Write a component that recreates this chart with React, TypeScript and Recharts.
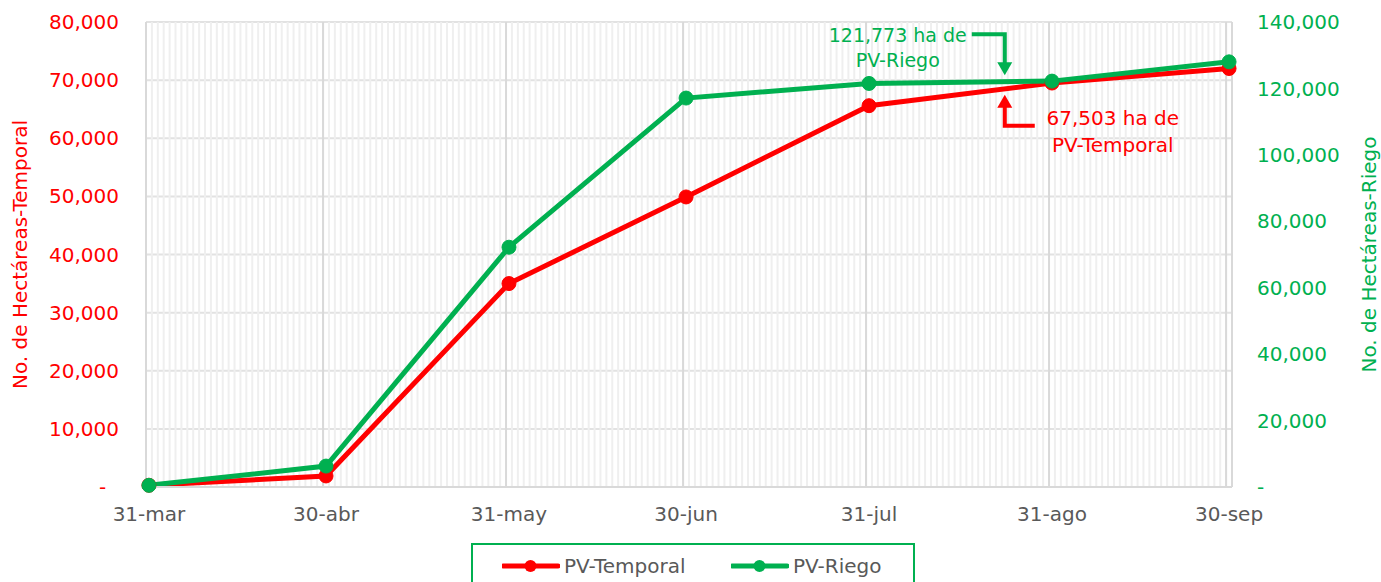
import React from 'react';
import {
  ComposedChart,
  Line,
  XAxis,
  YAxis,
  CartesianGrid,
  ReferenceLine,
  ReferenceDot,
  Legend,
} from 'recharts';

// ---- data ----
const dateLabels = ['31-mar', '30-abr', '31-may', '30-jun', '31-jul', '31-ago', '30-sep'];
const dayIndex = [0, 30, 61, 91, 122, 153, 183]; // days since 31-mar
const temporal = [300, 1900, 35000, 49900, 65600, 69500, 72000];
const riego = [500, 6300, 72200, 117100, 121500, 122200, 128000];
const leftTicks = [0, 10000, 20000, 30000, 40000, 50000, 60000, 70000, 80000];
const rightTicks = [0, 20000, 40000, 60000, 80000, 100000, 120000, 140000];
const totalDays = 184;
const annotationDay = 145;
const riegoAnnotation = 124000;
const temporalAnnotation = 67500;
const riegoText = ['121,773 ha de', 'PV-Riego'];
const temporalText = ['67,503 ha de', 'PV-Temporal'];

const RED = '#FF0000';
const GREEN = '#00B050';
const GRAY = '#595959';
const FONT = 'DejaVu Sans';

const data = dayIndex.map((d, i) => ({ day: d, temporal: temporal[i], riego: riego[i] }));
const minorLines = Array.from({ length: totalDays + 1 }, (_, k) => k - 0.5);
const majorLines = [...dayIndex.map((d) => d - 0.5), totalDays - 0.5];

const fmtLeft = (v: number) => (v === 0 ? '-\u00A0\u00A0' : v.toLocaleString('en-US'));
const fmtRight = (v: number) => (v === 0 ? '-' : v.toLocaleString('en-US'));

const RiegoArrow = (props: any) => {
  const { cx, cy } = props;
  return (
    <g>
      <polyline
        points={`${cx - 33},${cy - 41} ${cx},${cy - 41} ${cx},${cy - 12}`}
        fill="none"
        stroke={GREEN}
        strokeWidth={4}
      />
      <polygon points={`${cx - 7.5},${cy - 13} ${cx + 7.5},${cy - 13} ${cx},${cy}`} fill={GREEN} />
      <text x={cx - 107} y={cy - 40} textAnchor="middle" dominantBaseline="central" fill={GREEN} fontSize={19} fontFamily={FONT}>
        {riegoText[0]}
      </text>
      <text x={cx - 107} y={cy - 15} textAnchor="middle" dominantBaseline="central" fill={GREEN} fontSize={19} fontFamily={FONT}>
        {riegoText[1]}
      </text>
    </g>
  );
};

const TemporalArrow = (props: any) => {
  const { cx, cy } = props;
  return (
    <g>
      <polyline
        points={`${cx + 30},${cy + 31} ${cx},${cy + 31} ${cx},${cy + 12}`}
        fill="none"
        stroke={RED}
        strokeWidth={4}
      />
      <polygon points={`${cx - 7.5},${cy + 13} ${cx + 7.5},${cy + 13} ${cx},${cy}`} fill={RED} />
      <text x={cx + 108} y={cy + 23} textAnchor="middle" dominantBaseline="central" fill={RED} fontSize={20} fontFamily={FONT}>
        {temporalText[0]}
      </text>
      <text x={cx + 108} y={cy + 50} textAnchor="middle" dominantBaseline="central" fill={RED} fontSize={20} fontFamily={FONT}>
        {temporalText[1]}
      </text>
    </g>
  );
};

const LegendItem = ({ color, label, width }: { color: string; label: string; width: number }) => (
  <div style={{ display: 'flex', alignItems: 'center', width }}>
    <svg width={58} height={20} style={{ display: 'block' }}>
      <line x1={1} y1={10} x2={56} y2={10} stroke={color} strokeWidth={5} strokeLinecap="round" />
      <circle cx={28.5} cy={10} r={6} fill={color} />
    </svg>
    <span style={{ color: GRAY, fontSize: 20, fontFamily: FONT, marginLeft: 4 }}>{label}</span>
  </div>
);

const LegendContent = () => (
  <div
    style={{
      boxSizing: 'border-box',
      width: 444,
      height: 50,
      border: `2px solid ${GREEN}`,
      display: 'flex',
      alignItems: 'flex-start',
      paddingLeft: 29,
      paddingTop: 9,
    }}
  >
    <LegendItem color={RED} label="PV-Temporal" width={229} />
    <LegendItem color={GREEN} label="PV-Riego" width={160} />
  </div>
);

const AxisTitle = ({ viewBox, value, color, dx }: any) => {
  const x = viewBox.x + dx;
  const y = viewBox.y + viewBox.height / 2;
  return (
    <text
      x={x}
      y={y}
      transform={`rotate(-90, ${x}, ${y})`}
      textAnchor="middle"
      dominantBaseline="central"
      fill={color}
      fontSize={20}
      fontFamily={FONT}
    >
      {value}
    </text>
  );
};

export default function App() {
  return (
    <div style={{ position: 'absolute', left: 0, top: 0, width: 1381, height: 582, overflow: 'hidden', background: '#fff' }}>
      <ComposedChart
        width={1381}
        height={582}
        data={data}
        margin={{ top: 22, right: 0, bottom: 5, left: 0 }}
        style={{ fontFamily: FONT }}
      >
        <CartesianGrid yAxisId="left" vertical={false} stroke="#e2e2e2" strokeWidth={2} />
        {minorLines.map((x) => (
          <ReferenceLine key={`m${x}`} x={x} yAxisId="left" stroke="#efefef" strokeWidth={2} />
        ))}
        {majorLines.map((x) => (
          <ReferenceLine key={`M${x}`} x={x} yAxisId="left" stroke="#d9d9d9" strokeWidth={2} />
        ))}
        <XAxis
          dataKey="day"
          type="number"
          domain={[-0.5, totalDays - 0.5]}
          ticks={dayIndex}
          interval={0}
          tickFormatter={(v: number) => dateLabels[dayIndex.indexOf(v)]}
          axisLine={{ stroke: '#d9d9d9', strokeWidth: 2 }}
          tickLine={false}
          tickSize={0}
          tickMargin={20}
          height={40}
          tick={{ fill: GRAY, fontSize: 20, fontFamily: FONT }}
        />
        <YAxis
          yAxisId="left"
          orientation="left"
          domain={[0, 80000]}
          ticks={leftTicks}
          interval={0}
          tickFormatter={fmtLeft}
          axisLine={false}
          tickLine={false}
          tickSize={0}
          tickMargin={27}
          width={146}
          tick={{ fill: RED, fontSize: 20, fontFamily: FONT }}
          label={<AxisTitle value="No. de Hectáreas-Temporal" color={RED} dx={20} />}
        />
        <YAxis
          yAxisId="right"
          orientation="right"
          domain={[0, 140000]}
          ticks={rightTicks}
          interval={0}
          tickFormatter={fmtRight}
          axisLine={false}
          tickLine={false}
          tickSize={0}
          tickMargin={25}
          width={149}
          tick={{ fill: GREEN, fontSize: 20, fontFamily: FONT }}
          label={<AxisTitle value="No. de Hectáreas-Riego" color={GREEN} dx={137} />}
        />
        <Line
          yAxisId="left"
          dataKey="temporal"
          name="PV-Temporal"
          stroke={RED}
          strokeWidth={5}
          dot={{ r: 7, fill: RED, stroke: RED, strokeWidth: 1 }}
          activeDot={false}
          isAnimationActive={false}
        />
        <Line
          yAxisId="right"
          dataKey="riego"
          name="PV-Riego"
          stroke={GREEN}
          strokeWidth={5}
          dot={{ r: 7, fill: GREEN, stroke: GREEN, strokeWidth: 1 }}
          activeDot={false}
          isAnimationActive={false}
        />
        <ReferenceDot yAxisId="right" x={annotationDay} y={riegoAnnotation} shape={RiegoArrow} />
        <ReferenceDot yAxisId="left" x={annotationDay} y={temporalAnnotation} shape={TemporalArrow} />
        <Legend
          verticalAlign="bottom"
          content={<LegendContent />}
          wrapperStyle={{ position: 'absolute', left: 471, top: 543, width: 444, height: 50 }}
        />
      </ComposedChart>
    </div>
  );
}
